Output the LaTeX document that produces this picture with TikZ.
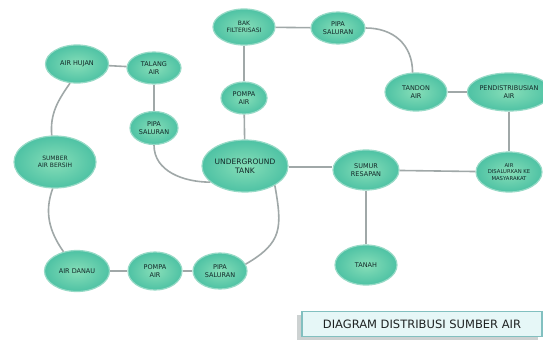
\documentclass[tikz,border=0pt]{standalone}
\usepackage{fontspec}
\setmainfont{DejaVu Sans}
\usetikzlibrary{shapes.geometric}
\definecolor{nodeout}{RGB}{78,194,164}
\definecolor{nodein}{RGB}{135,222,184}
\definecolor{nodeedge}{RGB}{150,218,198}
\definecolor{linegrey}{RGB}{160,168,168}
\definecolor{txt}{RGB}{18,40,40}
\definecolor{titleborder}{RGB}{130,192,192}
\definecolor{titlefill}{RGB}{230,247,247}
\definecolor{shadowc}{RGB}{205,210,210}
\begin{document}
\begin{tikzpicture}[x=1pt,y=1pt]
\tikzset{
  bub/.style={ellipse, inner sep=0pt, outer color=nodeout, inner color=nodein,
    draw=nodeedge, line width=1.2pt,
    text=txt, align=center, font=\fontsize{6.5}{7.8}\selectfont},
  conn/.style={draw=linegrey, line width=1.6pt},
  titlebox/.style={draw=titleborder, line width=1.2pt, fill=titlefill, inner sep=0pt,
    text={rgb,255:red,30;green,34;blue,34}, font=\fontsize{11.5}{12}\selectfont},
}
\fill[white] (0,0) rectangle (543,341);
\useasboundingbox (0,0) rectangle (543,341);

% nodes
\node[bub, minimum width=63pt, minimum height=38pt] (ah) at (77,277) {AIR HUJAN};
\node[bub, minimum width=54pt, minimum height=32pt] (ta) at (154,273) {TALANG\\AIR};
\node[bub, minimum width=48pt, minimum height=33pt] (pl) at (154,213) {PIPA\\SALURAN};
\node[bub, minimum width=82pt, minimum height=52pt, font=\fontsize{6}{7.5}\selectfont] (sb) at (55,179) {SUMBER\\AIR BERSIH};
\node[bub, minimum width=86pt, minimum height=52pt, font=\fontsize{7.5}{9}\selectfont] (ug) at (245,175) {UNDERGROUND\\TANK};
\node[bub, minimum width=62pt, minimum height=36pt, font=\fontsize{6}{7.5}\selectfont] (bf) at (244,314) {BAK\\FILTERISASI};
\node[bub, minimum width=46pt, minimum height=32pt] (pa) at (244,243) {POMPA\\AIR};
\node[bub, minimum width=54pt, minimum height=32pt] (pt) at (338,313) {PIPA\\SALURAN};
\node[bub, minimum width=62pt, minimum height=38pt] (td) at (416,249) {TANDON\\AIR};
\node[bub, minimum width=70pt, minimum height=38pt] (pd) at (509,249) {PENDISTRIBUSIAN\\AIR};
\node[bub, minimum width=66pt, minimum height=40pt, font=\fontsize{5.3}{6.5}\selectfont] (as) at (509,169) {AIR\\DISALURKAN KE\\MASYARAKAT};
\node[bub, minimum width=66pt, minimum height=40pt] (sr) at (366,171) {SUMUR\\RESAPAN};
\node[bub, minimum width=62pt, minimum height=40pt] (tn) at (366,76) {TANAH};
\node[bub, minimum width=65pt, minimum height=41pt] (ad) at (77,70) {AIR DANAU};
\node[bub, minimum width=54pt, minimum height=38pt] (pp) at (155,70) {POMPA\\AIR};
\node[bub, minimum width=54pt, minimum height=36pt] (pb) at (220,70) {PIPA\\SALURAN};

% straight connectors
\draw[conn] (ah) -- (ta);
\draw[conn] (ta) -- (pl);
\draw[conn] (bf) -- (pa);
\draw[conn] (pa) -- (ug);
\draw[conn] (bf) -- (pt);
\draw[conn] (td) -- (pd);
\draw[conn] (pd) -- (as);
\draw[conn] (ug.east |- 0,174) -- (sr.west |- 0,174);
\draw[conn] (sr) -- (as);
\draw[conn] (sr) -- (tn);
\draw[conn] (ad) -- (pp);
\draw[conn] (pp) -- (pb);

% curved connectors
\draw[conn] (ah.250) to[out=235,in=95] (sb.97);
\draw[conn] (pl.south) to[out=-90,in=180] (ug.205);
\draw[conn] (pt.east) to[out=0,in=90,looseness=1.1] (td.100);
\draw[conn] (sb.-95) to[out=-110,in=125] (ad.125);
\draw[conn] (pb.15) to[out=30,in=-80,looseness=1.3] (ug.-33);

% title
\fill[shadowc] (297,1) rectangle (538,26);
\node[titlebox, minimum width=240pt, minimum height=25pt] (title) at (422,17) {DIAGRAM DISTRIBUSI SUMBER AIR};
\end{tikzpicture}
\end{document}
